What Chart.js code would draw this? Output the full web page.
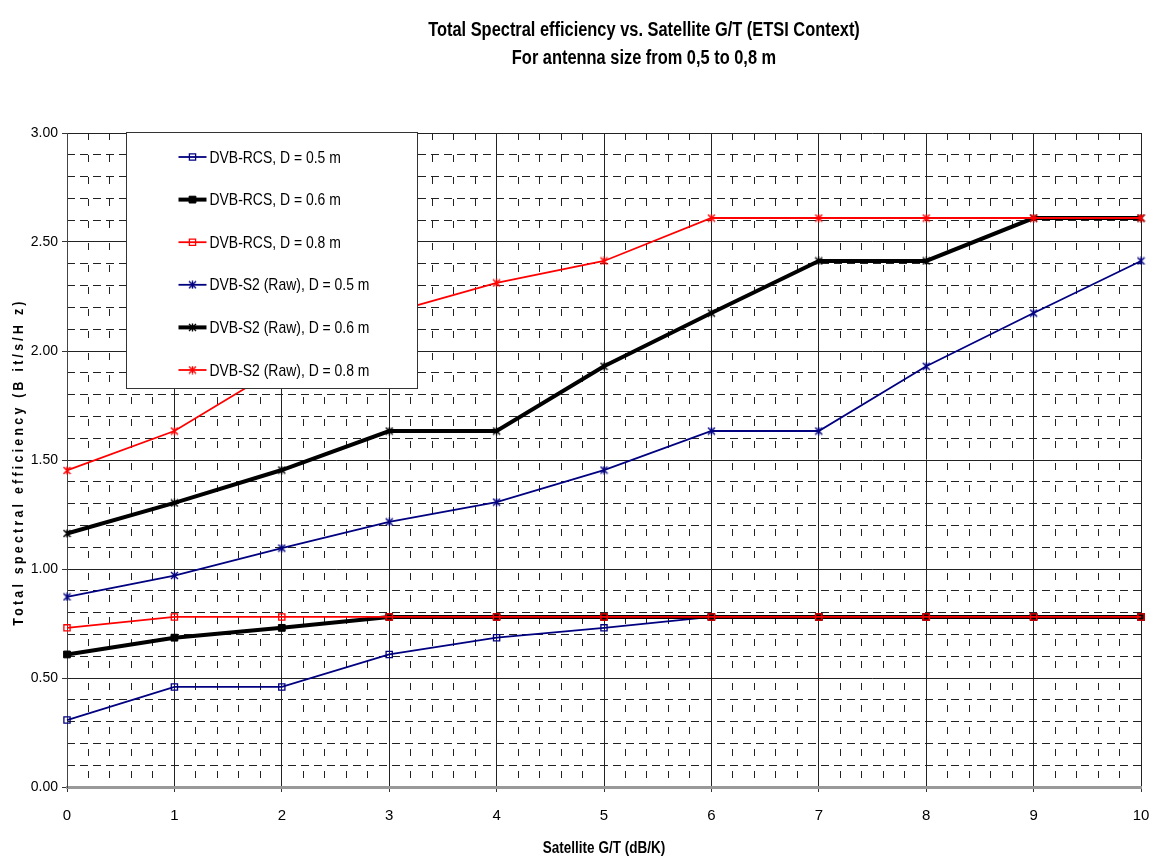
<!DOCTYPE html>
<html>
<head>
<meta charset="utf-8">
<script src="https://cdn.jsdelivr.net/npm/chart.js@4/dist/chart.umd.min.js"></script>
<style>
  html, body { margin: 0; padding: 0; background: #fff; }
  #wrap { width: 1150px; height: 857px; }
</style>
</head>
<body>
<div id="wrap"><canvas id="c" width="1150" height="857"></canvas></div>
<script>
// ---- data ----
const titleLines = ['Total Spectral efficiency vs. Satellite G/T (ETSI Context)', 'For antenna size from 0,5 to 0,8 m'];
const xAxisTitle = 'Satellite G/T (dB/K)';
const yAxisTitle = 'Total spectral efficiency (B it/s/H z)';

const satelliteGT = [0, 1, 2, 3, 4, 5, 6, 7, 8, 9, 10];

const seriesNames = [
  'DVB-RCS, D = 0.5 m',
  'DVB-RCS, D = 0.6 m',
  'DVB-RCS, D = 0.8 m',
  'DVB-S2 (Raw), D = 0.5 m',
  'DVB-S2 (Raw), D = 0.6 m',
  'DVB-S2 (Raw), D = 0.8 m'
];

const rcs05 = [0.307, 0.459, 0.459, 0.608, 0.685, 0.730, 0.780, 0.780, 0.780, 0.780, 0.780];
const rcs06 = [0.608, 0.685, 0.730, 0.780, 0.780, 0.780, 0.780, 0.780, 0.780, 0.780, 0.780];
const rcs08 = [0.730, 0.780, 0.780, 0.780, 0.780, 0.780, 0.780, 0.780, 0.780, 0.780, 0.780];
const s2_05 = [0.872, 0.970, 1.096, 1.216, 1.307, 1.454, 1.633, 1.633, 1.930, 2.174, 2.413];
const s2_06 = [1.163, 1.303, 1.454, 1.633, 1.633, 1.930, 2.174, 2.413, 2.413, 2.610, 2.610];
const s2_08 = [1.452, 1.633, 1.930, 2.174, 2.312, 2.413, 2.610, 2.610, 2.610, 2.610, 2.610];

const yTickValues = [0, 0.5, 1, 1.5, 2, 2.5, 3];

// ---- styling ----
const SANS = "'Liberation Sans', Arial, sans-serif";
const CONDENSE = 0.82;   // horizontal squeeze for the narrow lettering
const NAVY = '#000080', RED = '#ff0000', BLACK = '#000000';
const CLEAR = 'rgba(0,0,0,0)';

// asterisk-like marker: an X with a vertical stroke
function starMarker(color) {
  const c = document.createElement('canvas');
  c.width = 9; c.height = 9;
  const g = c.getContext('2d');
  g.strokeStyle = color;
  g.lineWidth = 1.4;
  g.beginPath();
  g.moveTo(1, 1); g.lineTo(8, 8);
  g.moveTo(8, 1); g.lineTo(1, 8);
  g.moveTo(4.5, 0.5); g.lineTo(4.5, 8.5);
  g.stroke();
  return c;
}

const toPoints = vals => satelliteGT.map((g, i) => ({ x: g, y: vals[i] }));

const seriesValues = [rcs05, rcs06, rcs08, s2_05, s2_06, s2_08];
const seriesStyles = [
  { color: NAVY,  width: 1.8, marker: 'rect', radius: 4.4, fill: CLEAR, mw: 1.3 },
  { color: BLACK, width: 4,   marker: 'rect', radius: 4.8, fill: BLACK, mw: 1 },
  { color: RED,   width: 1.8, marker: 'rect', radius: 4.4, fill: CLEAR, mw: 1.3 },
  { color: NAVY,  width: 1.8, marker: starMarker(NAVY),  radius: 4.5, fill: CLEAR, mw: 1 },
  { color: BLACK, width: 4,   marker: starMarker(BLACK), radius: 4.5, fill: CLEAR, mw: 1 },
  { color: RED,   width: 1.8, marker: starMarker(RED),   radius: 4.5, fill: CLEAR, mw: 1 }
];

const datasets = seriesNames.map((name, i) => {
  const s = seriesStyles[i];
  return {
    label: name,
    data: toPoints(seriesValues[i]),
    borderColor: s.color,
    backgroundColor: s.color,
    borderWidth: s.width,
    pointStyle: s.marker,
    pointRadius: s.radius,
    pointHoverRadius: s.radius,
    pointBorderColor: s.color,
    pointBackgroundColor: s.fill,
    pointBorderWidth: s.mw,
    tension: 0,
    fill: false,
    clip: false,
    // later series are painted over earlier ones
    order: seriesNames.length - i
  };
});

const isMultiple = (v, step) => Math.abs(v / step - Math.round(v / step)) < 1e-6;

// text squeezed horizontally around its anchor point
function narrowText(ctx, text, x, y, font, align, rotate, spacing) {
  ctx.save();
  ctx.translate(x, y);
  if (rotate) ctx.rotate(rotate);
  ctx.scale(CONDENSE, 1);
  ctx.font = font;
  ctx.fillStyle = '#000';
  ctx.textAlign = align;
  ctx.textBaseline = 'middle';
  if (spacing) ctx.letterSpacing = spacing;
  ctx.fillText(text, 0, 0);
  ctx.restore();
}

// titles, axis titles and the boxed legend
const decorPlugin = {
  id: 'decor',
  afterDraw(chart) {
    const ctx = chart.ctx;
    const area = chart.chartArea;

    narrowText(ctx, titleLines[0], 644, 30, 'bold 20px ' + SANS, 'center');
    narrowText(ctx, titleLines[1], 644, 58, 'bold 20px ' + SANS, 'center');

    narrowText(ctx, xAxisTitle, (area.left + area.right) / 2, 848, 'bold 16.5px ' + SANS, 'center');
    narrowText(ctx, yAxisTitle, 19, (area.top + area.bottom) / 2 + 2, 'bold 15px ' + SANS, 'center', -Math.PI / 2, '4px');

    // legend box
    const bx = area.left + 59.5, by = area.top - 0.5, bw = 291, bh = 256;
    ctx.save();
    ctx.fillStyle = '#fff';
    ctx.fillRect(bx, by, bw, bh);
    ctx.strokeStyle = '#333';
    ctx.lineWidth = 1;
    ctx.strokeRect(bx, by, bw, bh);
    chart.data.datasets.forEach((ds, i) => {
      const y = area.top + 24 + i * 42.6;
      ctx.setLineDash([]);
      ctx.strokeStyle = ds.borderColor;
      ctx.lineWidth = ds.borderWidth;
      ctx.beginPath();
      ctx.moveTo(bx + 52, y);
      ctx.lineTo(bx + 80, y);
      ctx.stroke();
      ctx.fillStyle = ds.pointBackgroundColor;
      ctx.strokeStyle = ds.pointBorderColor;
      ctx.lineWidth = ds.pointBorderWidth;
      Chart.helpers.drawPoint(ctx, {
        pointStyle: ds.pointStyle, radius: ds.pointRadius, rotation: 0, borderWidth: ds.pointBorderWidth
      }, bx + 66, y);
      narrowText(ctx, ds.label, bx + 83, y + 1, '17px ' + SANS, 'left');
    });
    ctx.restore();
  }
};

new Chart(document.getElementById('c'), {
  type: 'line',
  data: { datasets },
  options: {
    responsive: false,
    animation: false,
    devicePixelRatio: 1,
    layout: { padding: { top: 133, left: 0, right: 9, bottom: 0 } },
    plugins: {
      legend: { display: false },
      title: { display: false },
      tooltip: { enabled: false }
    },
    scales: {
      x: {
        type: 'linear',
        position: 'bottom',
        min: 0, max: 10,
        afterFit: s => { s.height = 70; s.paddingLeft = 0; s.paddingRight = 0; },
        ticks: {
          stepSize: 1,
          color: '#000',
          padding: 15,
          font: { family: SANS, size: 15 },
          maxRotation: 0
        },
        grid: { color: '#222', lineWidth: 1, tickLength: 5, tickColor: '#333' },
        border: { display: true, color: '#999', width: 3 }
      },
      xMinor: {
        type: 'linear',
        position: 'bottom',
        min: 0, max: 10,
        afterFit: s => { s.height = 0; s.paddingLeft = 0; s.paddingRight = 0; },
        ticks: { stepSize: 0.2, maxTicksLimit: 100, display: false },
        grid: {
          drawTicks: false,
          lineWidth: 1,
          color: c => (c.tick && isMultiple(c.tick.value, 1)) ? CLEAR : '#222'
        },
        border: { display: false, dash: [7, 15] }
      },
      y: {
        type: 'linear',
        position: 'left',
        min: 0, max: 3,
        afterFit: s => { s.width = 67; s.paddingTop = 0; s.paddingBottom = 0; },
        afterBuildTicks: s => { s.ticks = yTickValues.map(v => ({ value: v })); },
        ticks: {
          color: '#000',
          padding: 4,
          font: { family: SANS, size: 14 },
          callback: v => Number(v).toFixed(2)
        },
        grid: {
          lineWidth: 1,
          tickLength: 5,
          tickColor: '#333',
          color: c => (c.tick && c.tick.value === 0) ? CLEAR : '#222'
        },
        border: { display: true, color: '#444', width: 1 }
      },
      yMinor: {
        type: 'linear',
        position: 'left',
        min: 0, max: 3,
        afterFit: s => { s.width = 0; s.paddingTop = 0; s.paddingBottom = 0; },
        ticks: { stepSize: 0.1, maxTicksLimit: 100, display: false },
        grid: {
          drawTicks: false,
          lineWidth: 1,
          color: c => (c.tick && isMultiple(c.tick.value, 0.5)) ? CLEAR : '#222'
        },
        border: { display: false, dash: [8, 5] }
      }
    }
  },
  plugins: [decorPlugin]
});
</script>
</body>
</html>
